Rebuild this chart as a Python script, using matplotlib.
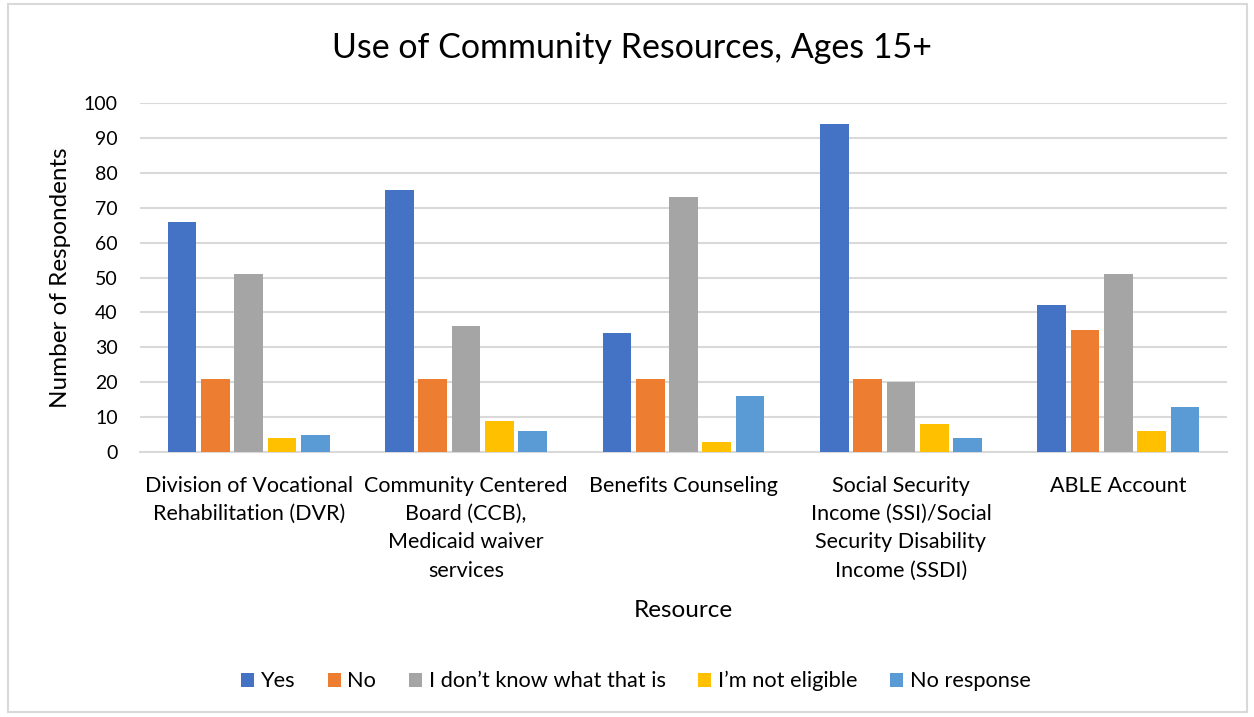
import matplotlib
matplotlib.use("Agg")
import matplotlib.pyplot as plt
from matplotlib.patches import Rectangle
import numpy as np

plt.rcParams['font.family'] = ['Lato', 'DejaVu Sans']

categories = [
    "Division of Vocational\nRehabilitation (DVR)",
    "Community Centered\nBoard (CCB),\nMedicaid waiver\nservices",
    "Benefits Counseling",
    "Social Security\nIncome (SSI)/Social\nSecurity Disability\nIncome (SSDI)",
    "ABLE Account",
]
series_names = ["Yes", "No", "I don\u2019t know what that is", "I\u2019m not eligible", "No response"]
yes = [66, 75, 34, 94, 42]
no = [21, 21, 21, 21, 35]
dont_know = [51, 36, 73, 20, 51]
not_eligible = [4, 9, 3, 8, 6]
no_response = [5, 6, 16, 4, 13]
colors = ["#4472C4", "#ED7D31", "#A5A5A5", "#FFC000", "#5B9BD5"]
yticks = list(range(0, 101, 10))

series = [yes, no, dont_know, not_eligible, no_response]

fig = plt.figure(figsize=(12.54, 7.17), dpi=100)
ax = fig.add_axes([0.1116, 0.3696, 0.8669, 0.4867])

x = np.arange(len(categories))
pitch = 0.153
width = 0.132
for i, (vals, name, c) in enumerate(zip(series, series_names, colors)):
    ax.bar(x + (i - 2) * pitch, vals, width=width, color=c, label=name, zorder=3)

ax.set_xlim(-0.5, len(categories) - 0.5)
ax.set_ylim(0, 100)
ax.set_yticks(yticks)
ax.set_yticklabels([str(t) for t in yticks], fontsize=14)
ax.yaxis.grid(True, color="#d9d9d9", linewidth=1.5, zorder=0)
ax.set_axisbelow(True)
for s in ["top", "right", "left"]:
    ax.spines[s].set_visible(False)
ax.spines["bottom"].set_color("#d9d9d9")
ax.spines["bottom"].set_linewidth(1.5)
ax.tick_params(axis="both", length=0, labelcolor="#000000")
ax.tick_params(axis="y", pad=16)
ax.set_xticks(x)
ax.set_xticklabels(categories, fontsize=15.5, va="top")
for lbl in ax.get_xticklabels():
    lbl.set_linespacing(1.52)
ax.tick_params(axis="x", pad=17)

ax.set_ylabel("Number of Respondents", fontsize=17.5, labelpad=9)
ax.set_xlabel("Resource", fontsize=17.5, labelpad=14)
fig.text(0.504, 0.933, "Use of Community Resources, Ages 15+", fontsize=24.5,
         ha="center", va="center")

leg = fig.legend(loc="center", bbox_to_anchor=(0.507, 0.05), ncol=5, frameon=False,
                 fontsize=15.7, handlelength=0.6, handleheight=0.6, handletextpad=0.3,
                 columnspacing=1.5)

fig.patches.append(Rectangle((0.0064, 0.007), 0.988, 0.987, transform=fig.transFigure,
                             fill=False, edgecolor="#d9d9d9", linewidth=1.5))

fig.savefig("out.png", dpi=100, facecolor="white")
